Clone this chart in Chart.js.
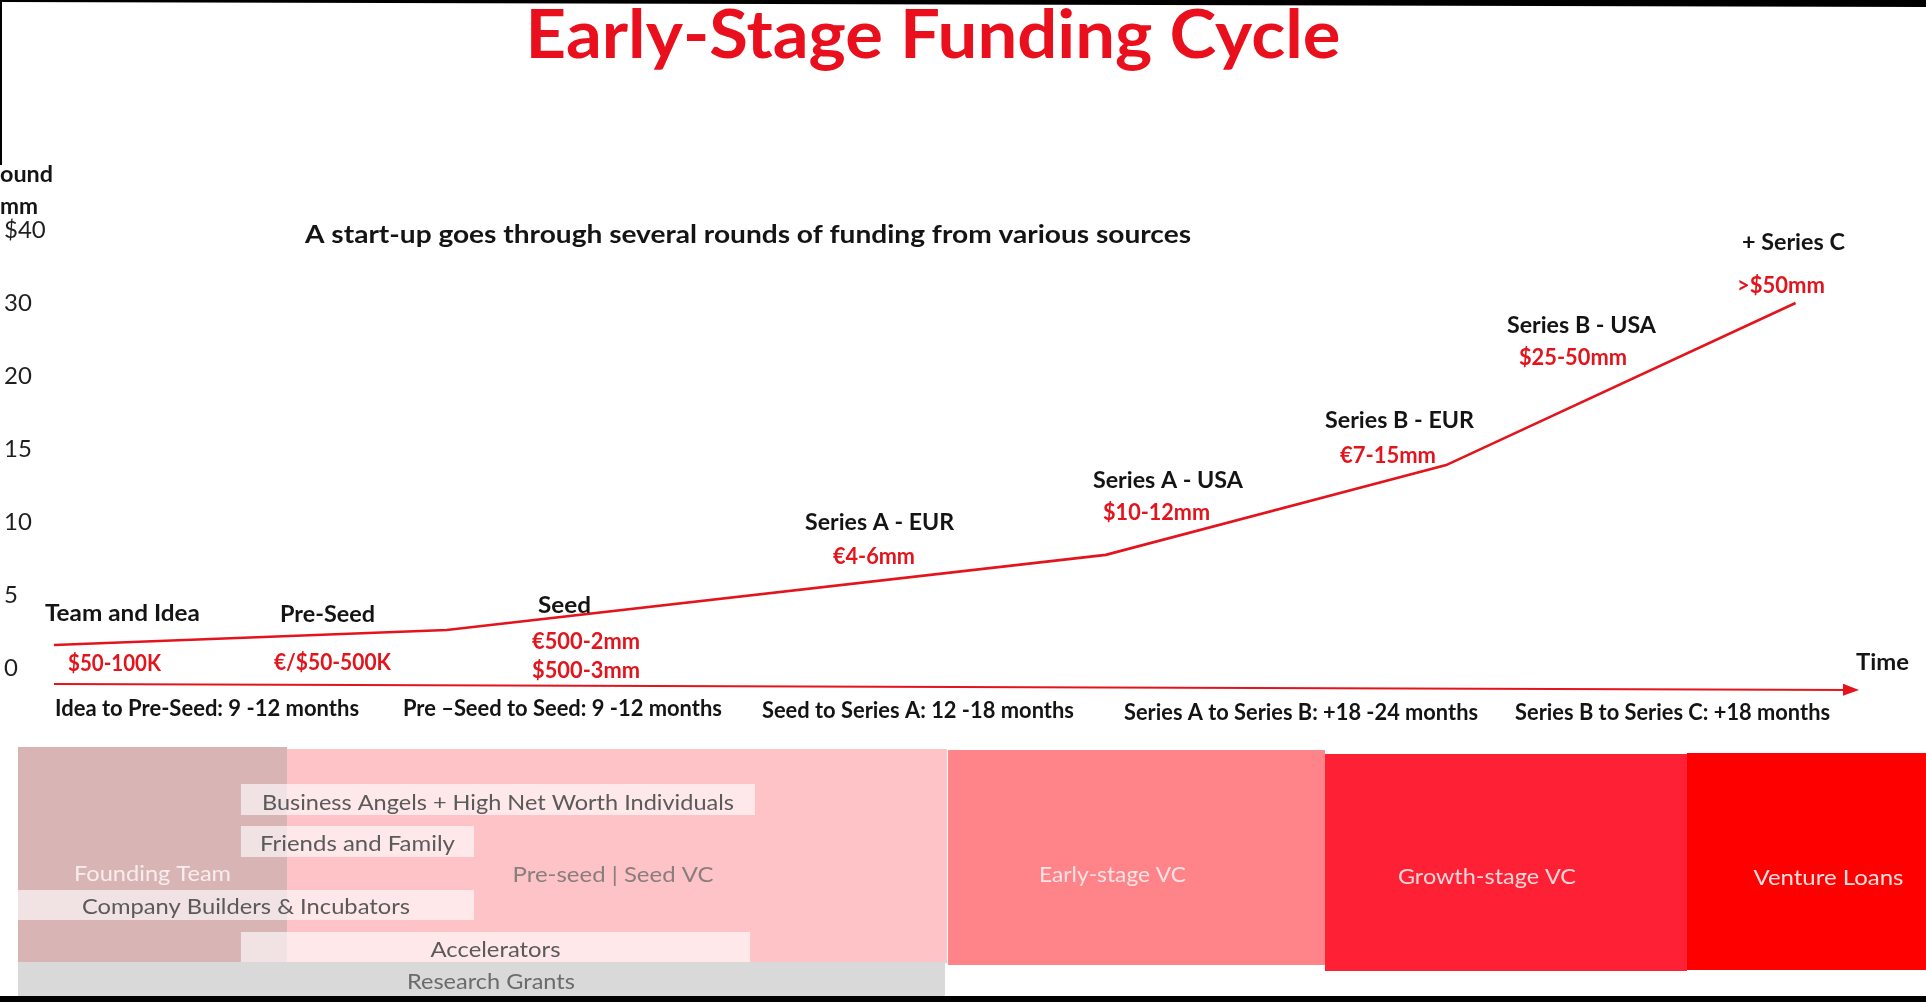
<!DOCTYPE html>
<html>
<head>
<meta charset="utf-8">
<script src="https://cdn.jsdelivr.net/npm/chart.js@4"></script>
<style>
  html, body { margin: 0; padding: 0; background: #ffffff; }
  canvas { display: block; }
</style>
</head>
<body>
<canvas id="c" width="1926" height="1002"></canvas>
<script>
// ---------------- DATA ----------------
const yTickLabels = ['0', '5', '10', '15', '20', '30', '$40'];
// funding curve: time position (0-100 along the time arrow) and round size (in axis-step units)
const roundTime = [0, 21.8, 58.4, 77.3, 96.7];
const roundSize = [0.315, 0.52, 1.55, 2.78, 5.0];
// time arrow
const timeAxisT = [0, 100];
const timeAxisV = [-0.22, -0.30];

const stageNames = ['Team and Idea', 'Pre-Seed', 'Seed', 'Series A - EUR', 'Series A - USA', 'Series B - EUR', 'Series B - USA', '+ Series C'];
const stageAmounts = ['$50-100K', '€/$50-500K', '€500-2mm|$500-3mm', '€4-6mm', '$10-12mm', '€7-15mm', '$25-50mm', '>$50mm'];
const intervals = ['Idea to Pre-Seed: 9 -12 months', 'Pre –Seed to Seed: 9 -12 months', 'Seed to Series A: 12 -18 months', 'Series A to Series B: +18 -24 months', 'Series B to Series C: +18 months'];

const sourceNames = ['Founding Team', 'Pre-seed | Seed VC', 'Research Grants', 'Early-stage VC', 'Growth-stage VC', 'Venture Loans'];
const sourceFrom = [-2.0, 12.94, -2.0, 49.64, 70.57, 90.67];
const sourceTo = [12.94, 49.58, 49.47, 70.57, 90.67, 103.94];
const overlayNames = ['Business Angels + High Net Worth Individuals', 'Friends and Family', 'Company Builders & Incubators', 'Accelerators'];
const overlayFrom = [10.38, 10.38, -2.0, 10.38];
const overlayTo = [38.92, 23.32, 23.32, 38.65];

const titleText = 'Early-Stage Funding Cycle';
const subtitleText = 'A start-up goes through several rounds of funding from various sources';
const yTitleLines = ['ound', 'mm'];
const timeLabel = 'Time';

// ---------------- LAYOUT / STYLE ----------------
const FONT = 'Lato';
const DY = 1.5; // baseline correction for Lato "middle"
const nameAt = [[3.80, 0.767, 155], [15.19, 0.753, 95], [28.35, 0.877, 53], [45.84, 2.014, 149], [61.85, 2.589, 150], [74.71, 3.411, 149], [84.81, 4.712, 149], [96.58, 5.849, 103]];
const amountAt = [[3.36, 0.082, 93], [15.46, 0.096, 117], [29.54, 0.384, 108], [45.53, 1.548, 82], [61.22, 2.151, 107], [74.07, 2.932, 96], [84.34, 4.274, 108], [95.89, 5.260, 88]];
const intervalAt = [[8.50, -0.534, 304], [28.23, -0.534, 319], [47.97, -0.562, 312], [69.24, -0.589, 354], [89.87, -0.589, 315]];
const timeAt = [101.53, 0.096, 53];

const sourceStyle = [
  { top: 747, bot: 962, fill: '#d9b4b5', txt: '#f8eded', ty: 872, tw: 157, dx: 0 },
  { top: 749, bot: 963, fill: '#fdc3c6', txt: '#8a7d7e', ty: 873, tw: 201, dx: -4 },
  { top: 962, bot: 996, fill: '#d9d9d9', txt: '#6b6b6b', ty: 980, tw: 168, dx: 9.5 },
  { top: 750, bot: 965, fill: '#fe8489', txt: '#fde3e5', ty: 873, tw: 147, dx: -24 },
  { top: 754, bot: 971, fill: '#fe2135', txt: '#fcd7da', ty: 875, tw: 178, dx: -19 },
  { top: 753, bot: 970, fill: '#fe0000', txt: '#fde0e0', ty: 876, tw: 150, dx: 22 }
];
const overlayStyle = [
  { top: 784, bot: 815, ty: 801, tw: 472 },
  { top: 826, bot: 857, ty: 842, tw: 195 },
  { top: 890, bot: 920, ty: 905, tw: 328 },
  { top: 932, bot: 962, ty: 948, tw: 130 }
];

function fitText(ctx, text, cx, cy, size, weight, color, width, align) {
  ctx.save();
  ctx.font = weight + ' ' + size + 'px ' + FONT;
  const w = ctx.measureText(text).width;
  const sx = width ? width / w : 1;
  ctx.translate(cx, cy + DY);
  ctx.scale(sx, 1);
  ctx.textAlign = align || 'center';
  ctx.textBaseline = 'middle';
  ctx.fillStyle = color;
  ctx.fillText(text, 0, 0);
  ctx.restore();
}

const decor = {
  id: 'decor',
  beforeDraw(chart) {
    const ctx = chart.ctx;
    ctx.save();
    ctx.fillStyle = '#ffffff';
    ctx.fillRect(0, 0, chart.width, chart.height);
    ctx.restore();
  },
  afterDraw(chart) {
    const ctx = chart.ctx;
    const xs = chart.scales.x, ys = chart.scales.y;
    const X = v => xs.getPixelForValue(v);
    const Y = v => ys.getPixelForValue(v);

    // arrow head on time axis
    const am = chart.getDatasetMeta(1).data;
    const a0 = am[0], a1 = am[am.length - 1];
    const ang = Math.atan2(a1.y - a0.y, a1.x - a0.x);
    ctx.save();
    ctx.translate(a1.x, a1.y);
    ctx.rotate(ang);
    ctx.fillStyle = '#e3141c';
    ctx.beginPath();
    ctx.moveTo(4, 0);
    ctx.lineTo(-12, -6);
    ctx.lineTo(-12, 6);
    ctx.closePath();
    ctx.fill();
    ctx.restore();

    // title & subtitle
    fitText(ctx, titleText, 933, 35, 67, 'bold', '#ea0f1c', 815);
    fitText(ctx, subtitleText, 748, 233, 25, 'bold', '#141414', 886);

    // y axis title (cropped)
    fitText(ctx, yTitleLines[0], 0, 173, 22, 'bold', '#141414', 53, 'left');
    fitText(ctx, yTitleLines[1], 0, 205, 22, 'bold', '#141414', 38, 'left');

    // stage names and amounts
    stageNames.forEach((n, i) => {
      const p = nameAt[i];
      fitText(ctx, n, X(p[0]), Y(p[1]), 22, 'bold', '#141414', p[2]);
    });
    stageAmounts.forEach((a, i) => {
      const p = amountAt[i];
      a.split('|').forEach((line, k) => {
        fitText(ctx, line, X(p[0]), Y(p[1]) + k * 29, 22, 'bold', '#e3141c', p[2]);
      });
    });
    intervals.forEach((t, i) => {
      const p = intervalAt[i];
      fitText(ctx, t, X(p[0]), Y(p[1]), 22, 'bold', '#141414', p[2]);
    });
    fitText(ctx, timeLabel, X(timeAt[0]), Y(timeAt[1]), 22, 'bold', '#141414', timeAt[2]);

    // funding sources panel
    ctx.save();
    sourceNames.forEach((n, i) => {
      const s = sourceStyle[i];
      const x0 = X(sourceFrom[i]), x1 = X(sourceTo[i]);
      ctx.fillStyle = s.fill;
      ctx.fillRect(x0, s.top, x1 - x0, s.bot - s.top);
    });
    overlayNames.forEach((n, i) => {
      const s = overlayStyle[i];
      const x0 = X(overlayFrom[i]), x1 = X(overlayTo[i]);
      ctx.fillStyle = 'rgba(255,255,255,0.62)';
      ctx.fillRect(x0, s.top, x1 - x0, s.bot - s.top);
    });
    ctx.restore();
    sourceNames.forEach((n, i) => {
      const s = sourceStyle[i];
      const cx = (X(sourceFrom[i]) + X(sourceTo[i])) / 2 + s.dx;
      fitText(ctx, n, cx, s.ty, 22, 'normal', s.txt, s.tw);
    });
    overlayNames.forEach((n, i) => {
      const s = overlayStyle[i];
      const cx = (X(overlayFrom[i]) + X(overlayTo[i])) / 2;
      fitText(ctx, n, cx, s.ty, 22, 'normal', '#5a5a5a', s.tw);
    });

    // photo frame edges
    ctx.save();
    ctx.fillStyle = '#000000';
    ctx.beginPath();
    ctx.moveTo(0, 0); ctx.lineTo(chart.width, 0); ctx.lineTo(chart.width, 7); ctx.lineTo(0, 2); ctx.closePath();
    ctx.fill();
    ctx.fillRect(0, 0, 2, 165);
    ctx.fillRect(0, 996, chart.width, 6);
    ctx.restore();
  }
};

new Chart(document.getElementById('c'), {
  type: 'line',
  data: {
    datasets: [
      {
        label: 'Round size',
        data: roundTime.map((t, i) => ({ x: t, y: roundSize[i] })),
        borderColor: '#e3141c',
        borderWidth: 2.6,
        pointRadius: 0,
        tension: 0,
        fill: false
      },
      {
        label: 'Time',
        data: timeAxisT.map((t, i) => ({ x: t, y: timeAxisV[i] })),
        borderColor: '#e3141c',
        borderWidth: 2,
        pointRadius: 0,
        tension: 0,
        fill: false
      }
    ]
  },
  options: {
    responsive: false,
    devicePixelRatio: 1,
    animation: false,
    layout: { padding: { left: 4, right: 71, top: 208.1, bottom: 290.2 } },
    plugins: { legend: { display: false }, tooltip: { enabled: false }, title: { display: false } },
    scales: {
      x: { type: 'linear', min: 0, max: 100, display: false },
      y: {
        type: 'linear', min: -0.6, max: 6.3,
        afterBuildTicks: s => { s.ticks = yTickLabels.map((_, i) => ({ value: i })); },
        afterFit: s => { s.width = 50; },
        grid: { display: false },
        border: { display: false },
        ticks: {
          crossAlign: 'far',
          autoSkip: false,
          font: { family: FONT, size: 24 },
          color: '#1f1f1f',
          callback: v => yTickLabels[v]
        }
      }
    }
  },
  plugins: [decor]
});
</script>
</body>
</html>
